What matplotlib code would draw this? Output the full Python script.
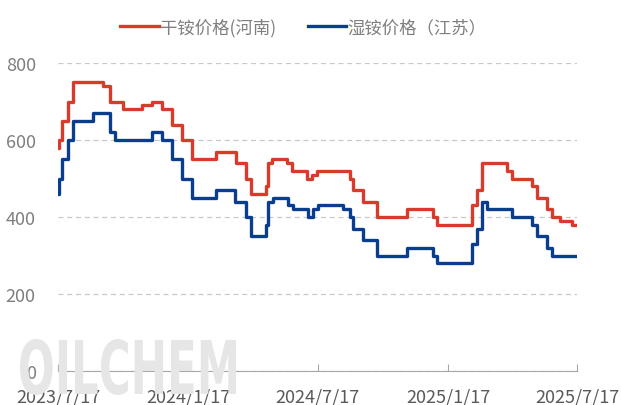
"""Dry vs wet ammonium chloride price, 2023/7 - 2025/7
"""
import matplotlib.pyplot as plt
import pandas as pd
from matplotlib.patches import PathPatch
from matplotlib.textpath import TextPath
from matplotlib.font_manager import FontProperties
from matplotlib.transforms import Affine2D

plt.rcParams["font.family"] = ["Noto Sans CJK SC", "DejaVu Sans"]

start = pd.Timestamp("2023-07-17")
end = pd.Timestamp("2025-07-17")

# change points: days after start, new price
dry_days = [0, 1, 6, 14, 21, 63, 73, 91, 119, 133, 147, 161, 175, 189, 223, 251,
            265, 272, 293, 296, 302, 323, 330, 351, 358, 365, 411, 415, 430, 449,
            492, 528, 534, 583, 590, 597, 632, 640, 668, 675, 689, 696, 707, 724, 731]
dry_vals = [580, 600, 650, 700, 750, 740, 700, 680, 690, 700, 680, 640, 600, 550, 570, 540,
            500, 460, 480, 540, 550, 540, 520, 500, 510, 520, 500, 470, 440, 400,
            420, 400, 380, 430, 470, 540, 520, 500, 480, 450, 420, 400, 390, 380, 380]

wet_days = [0, 1, 6, 14, 21, 49, 73, 80, 132, 146, 160, 174, 189, 222, 250, 265,
            272, 293, 296, 303, 324, 331, 352, 359, 366, 401, 411, 415, 430, 449,
            492, 528, 534, 583, 590, 597, 604, 640, 668, 675, 689, 696, 731]
wet_vals = [460, 500, 550, 600, 650, 670, 620, 600, 620, 600, 550, 500, 450, 470, 440, 400,
            350, 380, 440, 450, 430, 420, 400, 420, 430, 420, 400, 370, 340, 300,
            320, 300, 280, 330, 370, 440, 420, 400, 380, 350, 320, 300, 300]

dry_dates = [start + pd.Timedelta(days=d) for d in dry_days]
wet_dates = [start + pd.Timedelta(days=d) for d in wet_days]

tick_dates = [pd.Timestamp(s) for s in ["2023-07-17", "2024-01-17", "2024-07-17",
                                        "2025-01-17", "2025-07-17"]]
tick_labels = ["2023/7/17", "2024/1/17", "2024/7/17", "2025/1/17", "2025/7/17"]

fig = plt.figure(figsize=(6.22, 4.06), dpi=100)
ax = fig.add_axes([58 / 622, 1 - 372 / 406, 519 / 622, 308 / 406])

# watermark
tp = TextPath((0, 0), "OILCHEM", size=100,
              prop=FontProperties(family="DejaVu Sans", weight="bold"))
bb = tp.get_extents()
sx = (236 - 20) / bb.width
sy = (66 - 10) / bb.height
tr = Affine2D().translate(-bb.x0, -bb.y0).scale(sx, sy).translate(20, 10)
fig.patches.append(PathPatch(tr.transform_path(tp), transform=None,
                             facecolor="#e6e6e6", edgecolor="none", zorder=0))

ax.patch.set_alpha(0)
ax.plot(dry_dates, dry_vals, drawstyle="steps-post", color="#d83a2c", lw=2.4,
        label="干铵价格(河南)")
ax.plot(wet_dates, wet_vals, drawstyle="steps-post", color="#0b3d8e", lw=2.4,
        label="湿铵价格（江苏）")

ax.set_xlim(start, end)
ax.set_ylim(0, 800)
ax.set_yticks([0, 200, 400, 600, 800])
ax.set_xticks(tick_dates)
ax.set_xticklabels(tick_labels)
ax.grid(axis="y", ls=(0, (4, 3)), color="#c8c8c8", lw=0.9)
ax.set_axisbelow(True)

for side in ["top", "right", "left"]:
    ax.spines[side].set_visible(False)
ax.spines["bottom"].set_color("#a6a6a6")
ax.tick_params(axis="x", direction="in", length=5, color="#a6a6a6",
               labelsize=13, labelcolor="#595959", pad=12)
ax.tick_params(axis="y", length=0, labelsize=13, labelcolor="#7f7f7f", pad=16)

ax.legend(loc="center", bbox_to_anchor=(0.473, 1.117), ncol=2, frameon=False,
          fontsize=12.5, labelcolor="#7f7f7f", handlelength=2.2, handletextpad=0.1,
          columnspacing=1.8)

fig.savefig("out.png", dpi=100)
